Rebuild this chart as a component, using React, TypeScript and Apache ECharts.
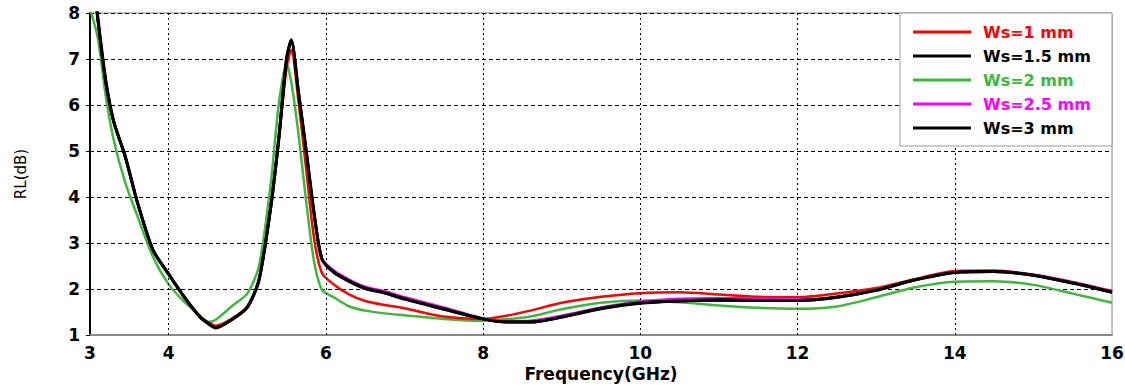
import React, { useEffect, useRef } from "react";
import * as echarts from "echarts";

const freq = [3.0, 3.1, 3.2, 3.3, 3.45, 3.6, 3.8, 4.0, 4.2, 4.4, 4.5, 4.6, 4.8, 5.0, 5.15, 5.3, 5.4, 5.5, 5.56, 5.65, 5.75, 5.85, 5.95, 6.1, 6.3, 6.5, 6.75, 7.0, 7.5, 8.0, 8.3, 8.6, 9.0, 9.5, 10, 10.5, 11, 11.5, 12, 12.5, 13, 13.5, 14, 14.5, 15, 15.5, 16];

const ws1 = [9.4, 7.85, 6.5, 5.65, 4.87, 3.9, 2.85, 2.32, 1.82, 1.4, 1.28, 1.2, 1.35, 1.62, 2.2, 3.75, 5.2, 6.8, 7.2, 6.1, 4.6, 3.1, 2.35, 2.1, 1.88, 1.74, 1.65, 1.58, 1.4, 1.35, 1.42, 1.53, 1.7, 1.83, 1.91, 1.93, 1.88, 1.83, 1.82, 1.9, 2.02, 2.22, 2.39, 2.4, 2.31, 2.15, 1.96];
const ws15 = [9.4, 7.85, 6.5, 5.65, 4.87, 3.9, 2.85, 2.32, 1.82, 1.39, 1.26, 1.16, 1.33, 1.6, 2.2, 3.8, 5.25, 7.0, 7.42, 6.3, 5.0, 3.65, 2.65, 2.37, 2.17, 2.02, 1.92, 1.79, 1.57, 1.35, 1.28, 1.28, 1.39, 1.58, 1.7, 1.74, 1.76, 1.75, 1.75, 1.82, 1.98, 2.2, 2.36, 2.38, 2.3, 2.13, 1.93];
const ws2 = [8.1, 7.45, 6.2, 5.25, 4.3, 3.6, 2.7, 2.1, 1.72, 1.42, 1.28, 1.33, 1.62, 1.9, 2.5, 4.3, 6.0, 6.9, 6.5, 5.4, 3.9, 2.6, 1.98, 1.82, 1.62, 1.53, 1.47, 1.43, 1.35, 1.31, 1.34, 1.4, 1.56, 1.7, 1.75, 1.71, 1.64, 1.59, 1.57, 1.62, 1.82, 2.04, 2.16, 2.17, 2.09, 1.9, 1.7];
const ws25 = [9.4, 7.85, 6.5, 5.65, 4.87, 3.9, 2.85, 2.32, 1.82, 1.39, 1.26, 1.16, 1.33, 1.6, 2.2, 3.8, 5.25, 7.0, 7.4, 6.3, 5.0, 3.65, 2.67, 2.4, 2.2, 2.05, 1.95, 1.82, 1.6, 1.36, 1.3, 1.31, 1.42, 1.6, 1.73, 1.79, 1.8, 1.79, 1.77, 1.83, 1.99, 2.2, 2.37, 2.39, 2.31, 2.15, 1.95];
const ws3 = [9.4, 7.9, 6.55, 5.65, 4.87, 3.9, 2.85, 2.33, 1.83, 1.39, 1.25, 1.15, 1.33, 1.6, 2.2, 3.8, 5.25, 7.0, 7.4, 6.3, 5.0, 3.65, 2.65, 2.36, 2.16, 2.01, 1.91, 1.78, 1.56, 1.35, 1.28, 1.28, 1.39, 1.57, 1.69, 1.74, 1.76, 1.75, 1.75, 1.82, 1.97, 2.2, 2.36, 2.38, 2.3, 2.13, 1.93];

const seriesNames = ["Ws=1 mm", "Ws=1.5 mm", "Ws=2 mm", "Ws=2.5 mm", "Ws=3 mm"];
const seriesColors = ["#ff0000", "#000000", "#3cb83c", "#ff00ff", "#000000"];
const seriesValues = [ws1, ws15, ws2, ws25, ws3];
const drawOrder = [2, 0, 3, 1, 4];

const xGridTicks = [4, 6, 8, 10, 12, 14];

export default function App() {
  const ref = useRef<HTMLDivElement>(null);
  useEffect(() => {
    const chart = echarts.init(ref.current!, null, { renderer: "svg" });
    const font = "DejaVu Sans, sans-serif";
    const series: any[] = drawOrder.map((i, k) => ({
      name: seriesNames[i],
      type: "line",
      data: freq.map((f, j) => [f, seriesValues[i][j]]),
      showSymbol: false,
      smooth: 0.25,
      z: 3 + k,
      lineStyle: { color: seriesColors[i], width: seriesColors[i] === "#000000" ? 3 : 2.5 },
      itemStyle: { color: seriesColors[i] },
    }));
    series.push({
      name: "grid",
      type: "line",
      data: [],
      silent: true,
      z: 1,
      markLine: {
        silent: true,
        symbol: "none",
        label: { show: false },
        lineStyle: { color: "#000", type: [2, 3], width: 1 },
        data: xGridTicks.map((v) => ({ xAxis: v })),
      },
    });
    chart.setOption({
      animation: false,
      backgroundColor: "#fff",
      grid: {
        left: 90,
        right: 13,
        top: 13,
        bottom: 50,
        show: true,
        borderColor: "#888",
        borderWidth: 1,
        containLabel: false,
        outerBoundsMode: "none",
      },
      xAxis: {
        type: "value",
        min: 3,
        max: 16,
        interval: 1,
        name: "Frequency(GHz)",
        nameLocation: "middle",
        nameGap: 29,
        nameTextStyle: { fontFamily: font, fontSize: 17, fontWeight: "bold", color: "#000" },
        axisLine: { lineStyle: { color: "#888", width: 2 } },
        axisTick: { show: false },
        splitLine: { show: false },
        axisLabel: {
          fontFamily: font,
          fontSize: 17,
          fontWeight: "bold",
          color: "#000",
          margin: 9,
          formatter: (v: number) => (v === 3 || v % 2 === 0 ? String(v) : ""),
        },
      },
      yAxis: {
        type: "value",
        min: 1,
        max: 8,
        interval: 1,
        name: "RL(dB)",
        nameLocation: "middle",
        nameGap: 62,
        nameRotate: 90,
        nameTextStyle: { fontFamily: font, fontSize: 15, color: "#000" },
        axisLine: { show: true, lineStyle: { color: "#000", width: 2 } },
        axisTick: { show: true, length: 4, lineStyle: { color: "#000" } },
        splitLine: { show: true, lineStyle: { color: "#000", type: [4, 3], width: 1 } },
        axisLabel: { fontFamily: font, fontSize: 17, fontWeight: "bold", color: "#000", margin: 10 },
      },
      graphic: [
        {
          type: "rect",
          z: 20,
          shape: { x: 900, y: 13, width: 212, height: 133 },
          style: { fill: "#fff", stroke: "#999", lineWidth: 1 },
        },
      ],
      legend: {
        orient: "vertical",
        left: 901,
        top: 24,
        z: 30,
        itemWidth: 58,
        itemHeight: 3,
        itemGap: 8,
        icon: "rect",
        padding: [0, 0, 0, 12],
        textStyle: { fontFamily: font, fontSize: 16, fontWeight: "bold", lineHeight: 16, padding: [0, 0, 0, 7] },
        data: seriesNames.map((n, i) => ({ name: n, textStyle: { color: seriesColors[i] } })),
      },
      series,
    });
    return () => chart.dispose();
  }, []);
  return <div ref={ref} style={{ position: "fixed", left: 0, top: 0, width: 1125, height: 385 }} />;
}
